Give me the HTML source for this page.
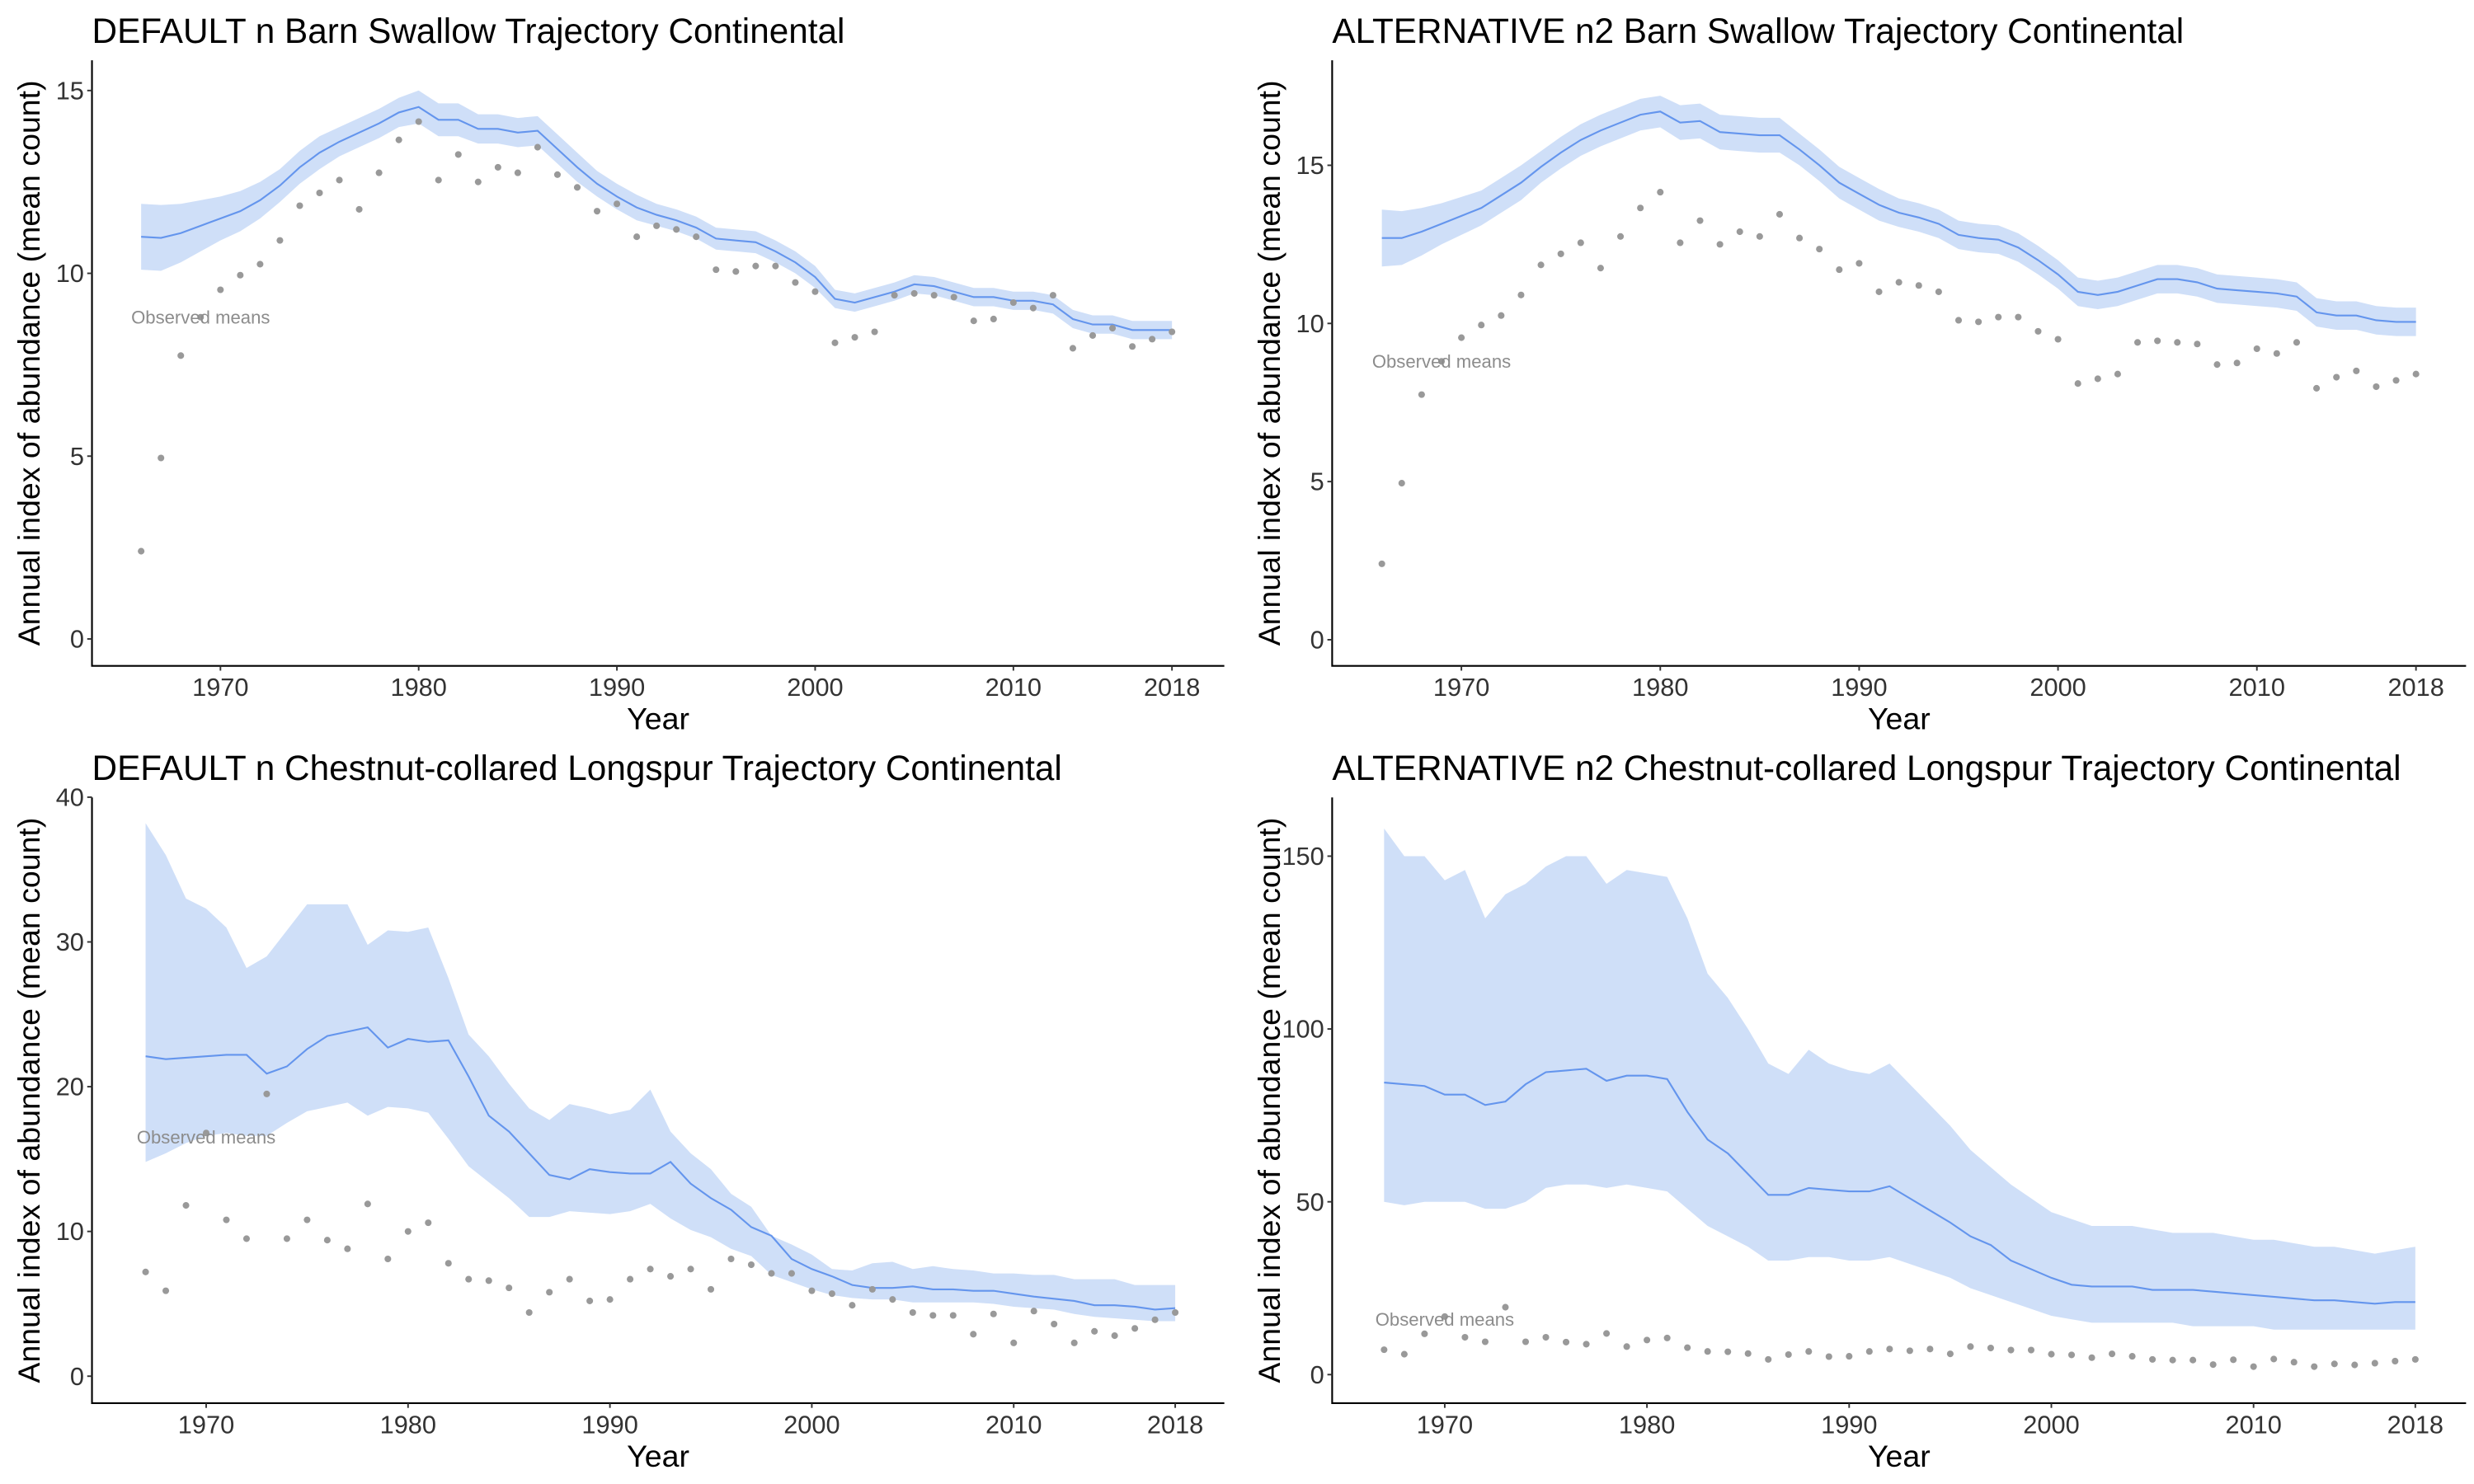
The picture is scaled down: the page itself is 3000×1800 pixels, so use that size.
<!DOCTYPE html>
<html><head><meta charset="utf-8"><style>
html,body{margin:0;padding:0;background:#fff;}
svg{display:block;font-family:"Liberation Sans",sans-serif;}
</style></head><body>
<svg id="root" width="3000" height="1800" viewBox="0 0 1560 936"></svg>
<script>
// ---- data ----
const bsYears = [];
for (let y = 1966; y <= 2018; y++) bsYears.push(y);
const ccYears = [];
for (let y = 1967; y <= 2018; y++) ccYears.push(y);

const bsObserved = [2.4,4.95,7.75,8.8,9.55,9.95,10.25,10.9,11.85,12.2,12.55,11.75,12.75,13.65,14.15,12.55,13.25,12.5,12.9,12.75,13.45,12.7,12.35,11.7,11.9,11.0,11.3,11.2,11.0,10.1,10.05,10.2,10.2,9.75,9.5,8.1,8.25,8.4,9.4,9.45,9.4,9.35,8.7,8.75,9.2,9.05,9.4,7.95,8.3,8.5,8.0,8.2,8.4];
const bsDefMean = [11.0,10.97,11.1,11.3,11.5,11.7,12.0,12.4,12.9,13.3,13.6,13.85,14.1,14.4,14.55,14.2,14.2,13.95,13.95,13.85,13.9,13.4,12.9,12.45,12.1,11.8,11.6,11.45,11.25,10.95,10.9,10.85,10.6,10.3,9.9,9.3,9.2,9.35,9.5,9.7,9.65,9.5,9.35,9.35,9.25,9.25,9.15,8.75,8.6,8.6,8.45,8.45,8.45];
const bsDefHalf = [0.9,0.9,0.8,0.7,0.6,0.55,0.5,0.45,0.45,0.45,0.4,0.4,0.4,0.4,0.45,0.45,0.45,0.4,0.4,0.4,0.4,0.4,0.4,0.35,0.35,0.35,0.3,0.3,0.3,0.3,0.3,0.3,0.3,0.3,0.3,0.25,0.25,0.25,0.25,0.25,0.25,0.25,0.25,0.25,0.25,0.25,0.25,0.25,0.25,0.25,0.25,0.25,0.25];
const bsAltMean = [12.7,12.7,12.9,13.15,13.4,13.65,14.05,14.45,14.95,15.4,15.8,16.1,16.35,16.6,16.7,16.35,16.4,16.05,16.0,15.95,15.95,15.5,15.0,14.45,14.1,13.75,13.5,13.35,13.15,12.8,12.7,12.65,12.4,12.0,11.55,11.0,10.9,11.0,11.2,11.4,11.4,11.3,11.1,11.05,11.0,10.95,10.85,10.35,10.25,10.25,10.1,10.05,10.05];
const bsAltHalf = [0.9,0.85,0.75,0.65,0.6,0.55,0.55,0.55,0.5,0.5,0.5,0.5,0.5,0.5,0.5,0.55,0.55,0.55,0.55,0.55,0.55,0.5,0.5,0.5,0.5,0.5,0.45,0.45,0.45,0.45,0.45,0.45,0.45,0.45,0.45,0.45,0.45,0.45,0.45,0.45,0.45,0.45,0.45,0.45,0.45,0.45,0.45,0.45,0.45,0.45,0.45,0.45,0.45];

const ccObserved = [7.2,5.9,11.8,16.8,10.8,9.5,19.5,9.5,10.8,9.4,8.8,11.9,8.1,10.0,10.6,7.8,6.7,6.6,6.1,4.4,5.8,6.7,5.2,5.3,6.7,7.4,6.9,7.4,6.0,8.1,7.7,7.1,7.1,5.9,5.7,4.9,6.0,5.3,4.4,4.2,4.2,2.9,4.3,2.3,4.5,3.6,2.3,3.1,2.8,3.3,3.9,4.4];
const ccDefMean = [22.1,21.9,22.0,22.1,22.2,22.2,20.9,21.4,22.6,23.5,23.8,24.1,22.7,23.3,23.1,23.2,20.7,18.0,16.9,15.4,13.9,13.6,14.3,14.1,14.0,14.0,14.8,13.3,12.3,11.5,10.3,9.7,8.1,7.4,6.9,6.3,6.1,6.1,6.2,6.0,6.0,5.9,5.9,5.7,5.5,5.35,5.2,4.9,4.9,4.8,4.6,4.7];
const ccDefUpper = [38.2,36.0,33.0,32.3,31.0,28.2,29.0,30.8,32.6,32.6,32.6,29.8,30.8,30.7,31.0,27.5,23.6,22.1,20.2,18.5,17.7,18.8,18.5,18.1,18.4,19.8,16.9,15.4,14.3,12.6,11.7,9.7,9.1,8.4,7.4,7.3,7.8,7.9,7.4,7.6,7.4,7.3,7.1,7.1,7.0,7.0,6.7,6.7,6.7,6.3,6.3,6.3];
const ccDefLower = [14.8,15.4,16.1,16.6,16.8,16.6,16.6,17.5,18.3,18.6,18.9,18.0,18.6,18.5,18.2,16.4,14.5,13.4,12.3,11.0,11.0,11.4,11.3,11.2,11.4,11.9,10.9,10.1,9.6,8.8,8.3,7.0,6.5,6.0,5.6,5.4,5.3,5.3,5.1,5.1,5.1,5.1,5.0,4.8,4.7,4.6,4.3,4.1,4.0,3.9,3.8,3.8];
const ccAltMean = [84.5,84,83.5,81,81,78,79,84,87.5,88,88.5,85,86.5,86.5,85.5,76,68,64,58,52,52,54,53.5,53,53,54.5,51,47.5,44,40,37.5,33,30.5,28,26,25.5,25.5,25.5,24.5,24.5,24.5,24,23.5,23,22.5,22,21.5,21.5,21,20.5,21,21];
const ccAltUpper = [158,150,150,143,146,132,139,142,147,150,150,142,146,145,144,132,116,109,100,90,87,94,90,88,87,90,84,78,72,65,60,55,51,47,45,43,43,43,42,41,41,41,40,39,39,38,37,37,36,35,36,37];
const ccAltLower = [50,49,50,50,50,48,48,50,54,55,55,54,55,54,53,48,43,40,37,33,33,34,34,33,33,34,32,30,28,25,23,21,19,17,16,15,15,15,15,15,14,14,14,14,13,13,13,13,13,13,13,13];

const xTicks = [1970,1980,1990,2000,2010,2018];

const NS = "http://www.w3.org/2000/svg";
const root = document.getElementById('root');
function mk(tag, attrs, parent) {
  const e = document.createElementNS(NS, tag);
  for (const k in attrs) e.setAttribute(k, attrs[k]);
  (parent || root).appendChild(e);
  return e;
}

function panel(opt) {
  const g = mk('g', {});
  
  
  const L = opt.left, T = opt.top, B = opt.bottom, R = opt.right;
  const x = v => opt.x0px + (v - opt.x0) * opt.xScale;
  const y = v => opt.y0px - v * opt.yScale;
  const t = mk('text', {x: L, y: T - 11, 'font-size': 22, fill: '#000'}, g);
  t.textContent = opt.title;
  
  
  let d = '';
  opt.years.forEach((yr, i) => { d += (i ? 'L' : 'M') + x(yr).toFixed(2) + ',' + y(opt.upper[i]).toFixed(2); });
  for (let i = opt.years.length - 1; i >= 0; i--) d += 'L' + x(opt.years[i]).toFixed(2) + ',' + y(opt.lower[i]).toFixed(2);
  const band = mk('path', {d: d + 'Z', fill: '#cfdff8', stroke: 'none'}, g);
  
  
  let ld = '';
  opt.years.forEach((yr, i) => { ld += (i ? 'L' : 'M') + x(yr).toFixed(2) + ',' + y(opt.mean[i]).toFixed(2); });
  const line = mk('path', {d: ld, fill: 'none', stroke: '#6495ed', 'stroke-width': 1.1}, g);
  
  
  opt.years.forEach((yr, i) => {
    const c = mk('circle', {cx: x(yr), cy: y(opt.obs[i]), r: 2.1, fill: '#999999'}, g);
    
    
  });
  const lab = mk('text', {x: x(opt.labelX), y: y(opt.labelY) + 4, 'font-size': 11.5, fill: '#8c8c8c', 'text-anchor': 'middle'}, g);
  lab.textContent = 'Observed means';
  
  
  const ax = mk('path', {d: `M${L},${T}V${B}H${R}`, fill: 'none', stroke: '#000', 'stroke-width': 1.1}, g);
  
  
  opt.yTicks.forEach(v => {
    mk('line', {x1: L - 3, x2: L, y1: y(v), y2: y(v), stroke: '#333', 'stroke-width': 1}, g);
    const tl = mk('text', {x: L - 5, y: y(v) + 5.5, 'font-size': 16, fill: '#333', 'text-anchor': 'end'}, g);
    tl.textContent = v;
    
    
  });
  xTicks.forEach(v => {
    mk('line', {x1: x(v), x2: x(v), y1: B, y2: B + 3, stroke: '#333', 'stroke-width': 1}, g);
    const tl = mk('text', {x: x(v), y: B + 19, 'font-size': 16, fill: '#333', 'text-anchor': 'middle'}, g);
    tl.textContent = v;
    
    
  });
  const xt = mk('text', {x: (L + R) / 2, y: B + 40, 'font-size': 19.5, fill: '#000', 'text-anchor': 'middle'}, g);
  xt.textContent = 'Year';
  
  
  const cy = (T + B) / 2;
  const yt = mk('text', {x: L - 33, y: cy, 'font-size': 19.5, fill: '#000', 'text-anchor': 'middle', transform: `rotate(-90 ${L - 33} ${cy})`}, g);
  yt.textContent = 'Annual index of abundance (mean count)';
  
  
}

const bsDefUpper = bsDefMean.map((m, i) => m + bsDefHalf[i]);
const bsDefLower = bsDefMean.map((m, i) => m - bsDefHalf[i]);
const bsAltUpper = bsAltMean.map((m, i) => m + bsAltHalf[i]);
const bsAltLower = bsAltMean.map((m, i) => m - bsAltHalf[i]);

panel({name:'panel-default-barn-swallow', title:'DEFAULT n Barn Swallow Trajectory Continental',
  left:58, top:38, bottom:420, right:772, x0:1970, x0px:139, xScale:12.5, y0px:403, yScale:23.06,
  years:bsYears, mean:bsDefMean, upper:bsDefUpper, lower:bsDefLower, obs:bsObserved, yTicks:[0,5,10,15], labelX:1969, labelY:8.8});
panel({name:'panel-alternative-barn-swallow', title:'ALTERNATIVE n2 Barn Swallow Trajectory Continental',
  left:840, top:38, bottom:420, right:1555, x0:1970, x0px:921.5, xScale:12.54, y0px:403.5, yScale:19.95,
  years:bsYears, mean:bsAltMean, upper:bsAltUpper, lower:bsAltLower, obs:bsObserved, yTicks:[0,5,10,15], labelX:1969, labelY:8.8});
panel({name:'panel-default-longspur', title:'DEFAULT n Chestnut-collared Longspur Trajectory Continental',
  left:58, top:503, bottom:885, right:772, x0:1970, x0px:130, xScale:12.73, y0px:868, yScale:9.13,
  years:ccYears, mean:ccDefMean, upper:ccDefUpper, lower:ccDefLower, obs:ccObserved, yTicks:[0,10,20,30,40], labelX:1970, labelY:16.5});
panel({name:'panel-alternative-longspur', title:'ALTERNATIVE n2 Chestnut-collared Longspur Trajectory Continental',
  left:840, top:503, bottom:885, right:1555, x0:1970, x0px:911, xScale:12.75, y0px:867, yScale:2.18,
  years:ccYears, mean:ccAltMean, upper:ccAltUpper, lower:ccAltLower, obs:ccObserved, yTicks:[0,50,100,150], labelX:1970, labelY:16});
</script>
</body></html>
